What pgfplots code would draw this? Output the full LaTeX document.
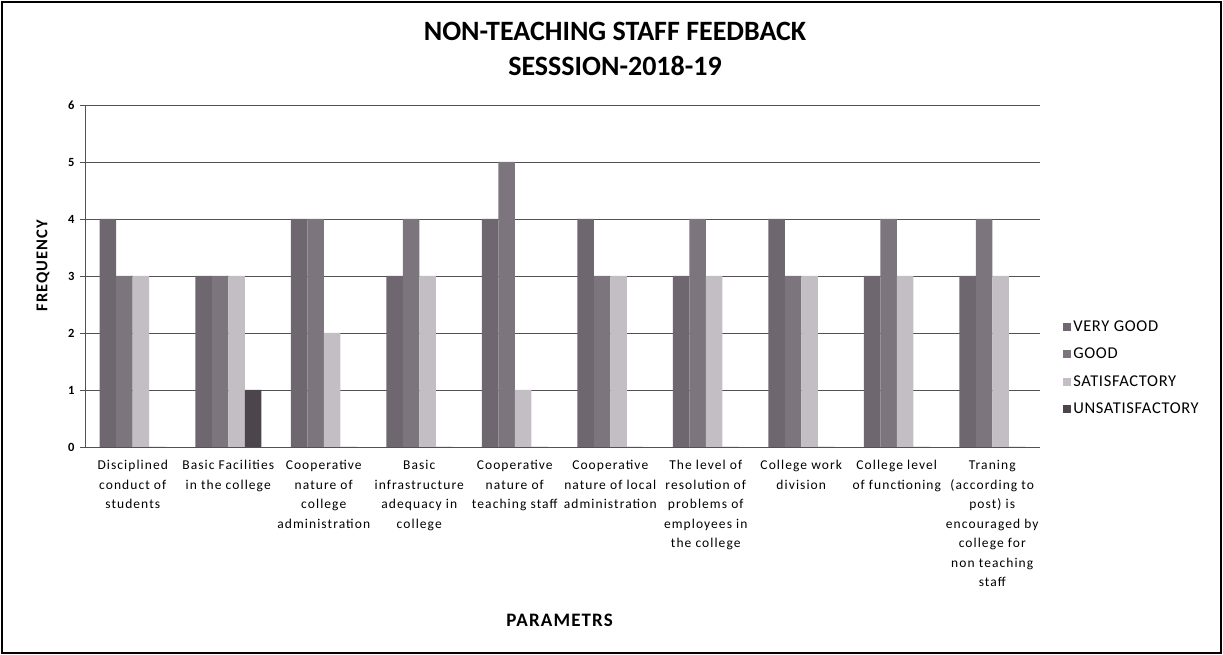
\documentclass[border=0pt]{standalone}
\usepackage{pgfplots}
\pgfplotsset{compat=1.18}
\usepackage{fontspec}
\setmainfont{Carlito}
\newfontfamily\lblfont[LetterSpace=8]{Carlito}
\newfontfamily\legfont[LetterSpace=4]{Carlito}
\newfontfamily\axfont[LetterSpace=6]{Carlito}
\definecolor{cvg}{HTML}{6F676F}
\definecolor{cgood}{HTML}{7D757D}
\definecolor{csat}{HTML}{C3BEC3}
\definecolor{cuns}{HTML}{4D454C}
\definecolor{cgrid}{HTML}{555055}
\begin{document}
\begin{tikzpicture}
\useasboundingbox (-85pt,-208pt) rectangle (1138pt,447pt);
\draw[line width=1.6pt,black] (-83pt,-206pt) rectangle (1136pt,445pt);
\begin{axis}[
  at={(0pt,0pt)}, anchor=south west,
  scale only axis, width=955pt, height=342pt,
  ybar=0pt, bar width=16.5pt,
  xmin=-0.5, xmax=9.5, ymin=0, ymax=6,
  xtick={0,...,9},
  xticklabels={
    {Disciplined\\conduct of\\students},
    {Basic Facilities\\in the college},
    {Cooperative\\nature of\\college\\administration},
    {Basic\\infrastructure\\adequacy in\\college},
    {Cooperative\\nature of\\teaching staff},
    {Cooperative\\nature of local\\administration},
    {The level of\\resolution of\\problems of\\employees in\\the college},
    {College work\\division},
    {College level\\of functioning},
    {Traning\\(according to\\post) is\\encouraged by\\college for\\non teaching\\staff}},
  xticklabel style={align=center, font=\lblfont\fontsize{13.5}{19.5}\selectfont, yshift=-5pt},
  major x tick style={draw=none},
  ytick={0,1,...,6},
  yticklabel style={font=\bfseries\fontsize{12.5}{14}\selectfont, xshift=-2pt},
  /pgf/number format/assume math mode=true,
  tick align=outside, major tick length=5pt,
  y tick style={cgrid, line width=0.8pt},
  ymajorgrids, grid style={cgrid, line width=0.9pt},
  axis x line*=bottom, axis y line*=left,
  axis line style={cgrid, line width=0.9pt, -},
  ylabel={FREQUENCY},
  ylabel style={font=\axfont\bfseries\fontsize{16.5}{18}\selectfont, at={(axis description cs:-0.044,0.53)}, anchor=center},
  xlabel={PARAMETRS},
  xlabel style={font=\axfont\bfseries\fontsize{19}{21}\selectfont, at={(axis description cs:0.497,-0.506)}, anchor=center},
  title={NON-TEACHING STAFF FEEDBACK\\SESSSION-2018-19},
  title style={align=center, font=\bfseries\fontsize{28}{35}\selectfont, at={(axis description cs:0.555,1.145)}, anchor=center},
  legend style={at={(axis description cs:1.021,0.231)}, anchor=west, draw=none, fill=none,
    font=\legfont\fontsize{16.5}{18}\selectfont, row sep=11pt},
  legend cell align=left,
  legend image code/.code={\fill[#1] (0pt,-4pt) rectangle (8pt,4pt);},
]
\addplot[fill=cvg, draw=none] coordinates {(0,4) (1,3) (2,4) (3,3) (4,4) (5,4) (6,3) (7,4) (8,3) (9,3)};
\addplot[fill=cgood, draw=none] coordinates {(0,3) (1,3) (2,4) (3,4) (4,5) (5,3) (6,4) (7,3) (8,4) (9,4)};
\addplot[fill=csat, draw=none] coordinates {(0,3) (1,3) (2,2) (3,3) (4,1) (5,3) (6,3) (7,3) (8,3) (9,3)};
\addplot[fill=cuns, draw=none] coordinates {(0,0) (1,1) (2,0) (3,0) (4,0) (5,0) (6,0) (7,0) (8,0) (9,0)};
\legend{VERY GOOD, GOOD, SATISFACTORY, UNSATISFACTORY}
\end{axis}
\end{tikzpicture}
\end{document}
